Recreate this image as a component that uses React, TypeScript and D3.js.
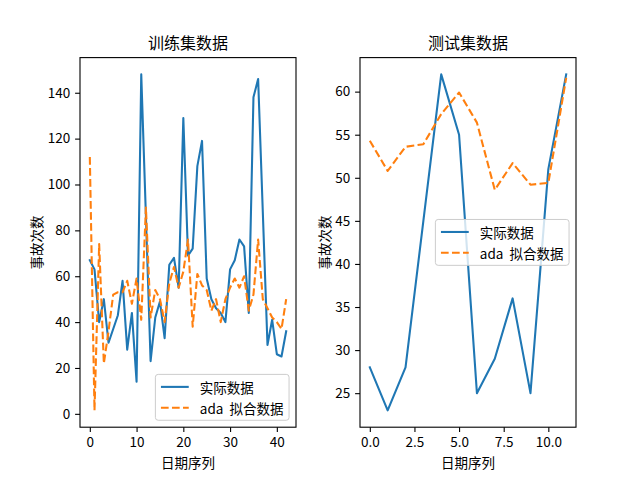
import * as React from 'react';
import * as d3 from 'd3';

// training set: actual counts and the ada fit, index 0..42
const trainActual = [
  67, 63, 40, 50, 31, 37, 43, 58, 28, 44, 14, 148, 86, 23, 42, 49, 33, 65, 68, 55,
  129, 69, 72, 108, 119, 59, 50, 46, 44, 40, 63, 67, 76, 73, 44, 138, 146, 88, 30, 41,
  26, 25, 36
];
const trainAda = [
  112, 1.5, 74, 22, 36, 52, 53, 53, 58, 48, 59, 41, 90, 42, 54, 50, 40, 57, 64, 55,
  62, 76, 38, 61, 56, 54, 45, 50, 40, 50, 55, 59, 55, 60, 45, 52, 76, 50, 46, 42,
  40, 37, 50
];

// test set, index 0..11
const testActual = [28, 23, 28, 45, 62, 55, 25, 29, 36, 25, 51, 62];
const testAda = [54.3, 50.8, 53.6, 53.9, 57.4, 59.9, 56.4, 48.6, 51.7, 49.2, 49.4, 61.6];

const trainXTicks = [0, 10, 20, 30, 40];
const trainYTicks = [0, 20, 40, 60, 80, 100, 120, 140];
const testXTicks = [0, 2.5, 5, 7.5, 10];
const testYTicks = [25, 30, 35, 40, 45, 50, 55, 60];

const seriesNames = ['实际数据', 'ada\u00a0 拟合数据'];
const colors = ['#1f77b4', '#ff7f0e'];
const FONT = '"Noto Sans CJK SC", "DejaVu Sans", sans-serif';

type Panel = {
  left: number;
  right: number;
  title: string;
  actual: number[];
  fit: number[];
  xTicks: number[];
  yTicks: number[];
  xFmt: (d: number) => string;
  legend: 'lower right' | 'center right';
};

const TOP = 57.6;
const BOTTOM = 427.2;

export default class App extends React.Component {
  private svgRef = React.createRef<SVGSVGElement>();

  public componentDidMount() {
    this.drawChart();
  }

  private padded = (vals: number[]) => {
    const [lo, hi] = d3.extent(vals) as [number, number];
    const m = (hi - lo) * 0.05;
    return [lo - m, hi + m];
  };

  private drawPanel = (svg: any, p: Panel) => {
    const n = p.actual.length;
    const x = d3.scaleLinear().domain(this.padded([0, n - 1])).range([p.left, p.right]);
    const y = d3
      .scaleLinear()
      .domain(this.padded(p.actual.concat(p.fit)))
      .range([BOTTOM, TOP]);

    const g = svg.append('g');

    const line = d3
      .line<number>()
      .x((_, i) => x(i))
      .y(d => y(d));

    g.append('path')
      .datum(p.actual)
      .attr('fill', 'none')
      .attr('stroke', colors[0])
      .attr('stroke-width', 2.08)
      .attr('stroke-linejoin', 'round')
      .attr('stroke-linecap', 'square')
      .attr('d', line);

    g.append('path')
      .datum(p.fit)
      .attr('fill', 'none')
      .attr('stroke', colors[1])
      .attr('stroke-width', 2.08)
      .attr('stroke-dasharray', '7.7,3.33')
      .attr('stroke-linejoin', 'round')
      .attr('d', line);

    // axes frame
    g.append('rect')
      .attr('x', p.left)
      .attr('y', TOP)
      .attr('width', p.right - p.left)
      .attr('height', BOTTOM - TOP)
      .attr('fill', 'none')
      .attr('stroke', '#000')
      .attr('stroke-width', 1.1);

    const xAxis = g
      .append('g')
      .attr('transform', `translate(0, ${BOTTOM})`)
      .call(d3.axisBottom(x).tickValues(p.xTicks).tickFormat(p.xFmt as any).tickSize(4.9).tickPadding(4.9));
    const yAxis = g
      .append('g')
      .attr('transform', `translate(${p.left}, 0)`)
      .call(d3.axisLeft(y).tickValues(p.yTicks).tickSize(4.9).tickPadding(4.9));

    [xAxis, yAxis].forEach(a => {
      a.select('.domain').remove();
      a.selectAll('line').attr('stroke', '#000').attr('stroke-width', 1.1);
      a.selectAll('text').attr('font-family', FONT).attr('font-size', 13.5).attr('fill', '#000');
    });

    g.append('text')
      .attr('x', (p.left + p.right) / 2)
      .attr('y', TOP - 8.3)
      .attr('text-anchor', 'middle')
      .attr('font-family', FONT)
      .attr('font-size', 16)
      .text(p.title);

    g.append('text')
      .attr('x', (p.left + p.right) / 2)
      .attr('y', 468)
      .attr('text-anchor', 'middle')
      .attr('font-family', FONT)
      .attr('font-size', 13.5)
      .text('日期序列');

    let labelRight = p.left;
    yAxis.selectAll('text').each(function (this: any) {
      const b = this.getBBox();
      labelRight = Math.min(labelRight, p.left - 9.8 - b.width);
    });
    g.append('text')
      .attr('transform', `translate(${labelRight - 5.6}, ${(TOP + BOTTOM) / 2}) rotate(-90)`)
      .attr('text-anchor', 'middle')
      .attr('font-family', FONT)
      .attr('font-size', 13.5)
      .text('事故次数');

    // legend
    const fs = 13.9;
    const pad = 0.4 * fs;
    const handle = 2 * fs;
    const gap = 0.8 * fs;
    const spacing = 0.5 * fs;
    const lg = g.append('g');
    const box = lg.append('rect');
    const texts: any[] = [];
    seriesNames.forEach(name => {
      const t = lg
        .append('text')
        .attr('font-family', FONT)
        .attr('font-size', 13.5)
        .attr('dominant-baseline', 'central')
        .text(name);
      texts.push(t);
    });
    const textW = d3.max(texts, t => (t.node() as SVGTextElement).getComputedTextLength()) as number;
    const bw = pad * 2 + handle + gap + textW;
    const bh = pad * 2 + fs * 2 + spacing;
    const bx = p.right - 0.5 * fs - bw;
    const by = p.legend === 'lower right' ? BOTTOM - 0.5 * fs - bh : (TOP + BOTTOM) / 2 - bh / 2;
    box
      .attr('x', bx)
      .attr('y', by)
      .attr('width', bw)
      .attr('height', bh)
      .attr('rx', 2.8)
      .attr('fill', 'white')
      .attr('fill-opacity', 0.8)
      .attr('stroke', '#cccccc')
      .attr('stroke-width', 1);
    texts.forEach((t, i) => {
      const cy = by + pad + fs / 2 + i * (fs + spacing);
      t.attr('x', bx + pad + handle + gap).attr('y', cy);
      lg.append('line')
        .attr('x1', bx + pad)
        .attr('x2', bx + pad + handle)
        .attr('y1', cy)
        .attr('y2', cy)
        .attr('stroke', colors[i])
        .attr('stroke-width', 2.08)
        .attr('stroke-dasharray', i === 1 ? '7.7,3.33' : null);
    });
  };

  private drawChart = () => {
    const svg = d3.select(this.svgRef.current);
    this.drawPanel(svg, {
      left: 80,
      right: 296,
      title: '训练集数据',
      actual: trainActual,
      fit: trainAda,
      xTicks: trainXTicks,
      yTicks: trainYTicks,
      xFmt: d3.format('d'),
      legend: 'lower right'
    });
    this.drawPanel(svg, {
      left: 360,
      right: 576,
      title: '测试集数据',
      actual: testActual,
      fit: testAda,
      xTicks: testXTicks,
      yTicks: testYTicks,
      xFmt: d3.format('.1f'),
      legend: 'center right'
    });
  };

  public render() {
    return (
      <svg
        ref={this.svgRef}
        width={640}
        height={480}
        style={{ position: 'absolute', left: 0, top: 0, background: '#fff' }}
      />
    );
  }
}
